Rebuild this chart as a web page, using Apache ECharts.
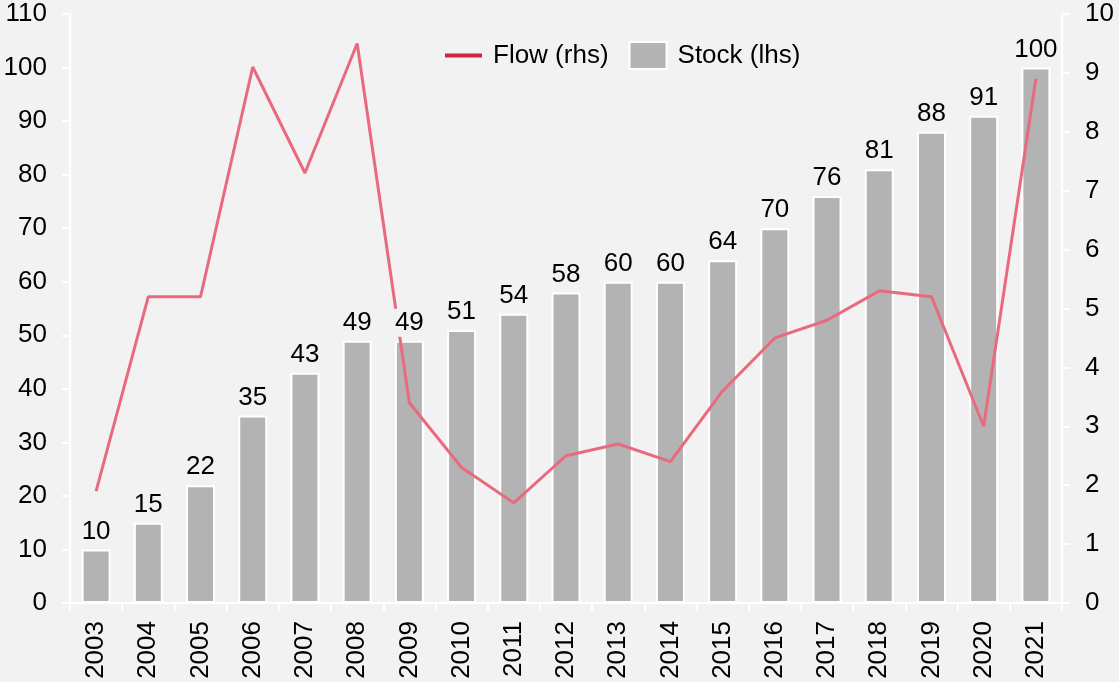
<!DOCTYPE html>
<html>
<head>
<meta charset="utf-8">
<script src="https://cdn.jsdelivr.net/npm/echarts@6/dist/echarts.min.js"></script>
<style>
  html, body { margin: 0; padding: 0; background: #f2f2f2; }
  #main { width: 1119px; height: 682px; }
</style>
</head>
<body>
<div id="main"></div>
<script>
const years = ['2003', '2004', '2005', '2006', '2007', '2008', '2009', '2010', '2011', '2012',
  '2013', '2014', '2015', '2016', '2017', '2018', '2019', '2020', '2021'];
const stock = [10, 15, 22, 35, 43, 49, 49, 51, 54, 58, 60, 60, 64, 70, 76, 81, 88, 91, 100];
const flow = [1.9, 5.2, 5.2, 9.1, 7.3, 9.5, 3.4, 2.3, 1.7, 2.5, 2.7, 2.4, 3.6, 4.5, 4.8, 5.3, 5.2, 3.0, 8.9];

const font = 'Liberation Sans, Arial, sans-serif';
const myChart = echarts.init(document.getElementById('main'));

const option = {
  backgroundColor: '#f2f2f2',
  animation: false,
  textStyle: { fontFamily: font },
  legend: {
    left: 440,
    top: 36,
    itemWidth: 37,
    itemHeight: 27,
    itemGap: 20,
    symbolKeepAspect: true,
    textStyle: { color: '#000', fontSize: 26, fontFamily: font, padding: [0, 0, 0, 6] },
    data: [
      { name: 'Flow (rhs)', icon: 'path://M0,0 L37,0 L37,4 L0,4 Z', itemStyle: { color: '#d0253e' } },
      { name: 'Stock (lhs)', icon: 'rect', itemStyle: { color: '#b3b3b3', borderColor: '#fff', borderWidth: 2 } }
    ]
  },
  grid: { left: 70, right: 57, top: 14, bottom: 79 },
  xAxis: {
    type: 'category',
    data: years,
    axisLine: { lineStyle: { color: '#fff', width: 2 } },
    axisTick: { show: true, length: 8, lineStyle: { color: '#fff', width: 2 } },
    axisLabel: { rotate: 90, fontSize: 26, color: '#000', margin: 18, fontFamily: font }
  },
  yAxis: [{
    type: 'value',
    min: 0, max: 110, interval: 10,
    axisLine: { show: true, lineStyle: { color: '#fff', width: 2 } },
    axisTick: { show: true, length: 8, lineStyle: { color: '#fff', width: 2 } },
    axisLabel: { fontSize: 26, color: '#000', margin: 23, fontFamily: font },
    splitLine: { show: false }
  }, {
    type: 'value',
    min: 0, max: 10, interval: 1,
    axisLine: { show: true, lineStyle: { color: '#fff', width: 2 } },
    axisTick: { show: true, length: 8, lineStyle: { color: '#fff', width: 2 } },
    axisLabel: { fontSize: 26, color: '#000', margin: 23, fontFamily: font },
    splitLine: { show: false }
  }],
  series: [{
    name: 'Stock (lhs)',
    type: 'bar',
    data: stock,
    barWidth: 29,
    z: 2,
    itemStyle: { color: '#b3b3b3', borderColor: '#fff', borderWidth: 2 }
  }, {
    name: 'Flow (rhs)',
    type: 'line',
    yAxisIndex: 1,
    data: flow,
    symbol: 'none',
    z: 3,
    lineStyle: { color: '#e96a7f', width: 3 },
    itemStyle: { color: '#d0253e' }
  }, {
    // labels only, so they sit above the line
    name: 'labels',
    type: 'bar',
    data: stock,
    barWidth: 29,
    barGap: '-100%',
    z: 4,
    silent: true,
    itemStyle: { color: 'rgba(0,0,0,0)' },
    label: {
      show: true,
      position: 'top',
      distance: 4,
      fontSize: 26,
      color: '#000',
      fontFamily: font,
      backgroundColor: '#f2f2f2',
      padding: [1, 2]
    }
  }]
};

myChart.setOption(option);
</script>
</body>
</html>
